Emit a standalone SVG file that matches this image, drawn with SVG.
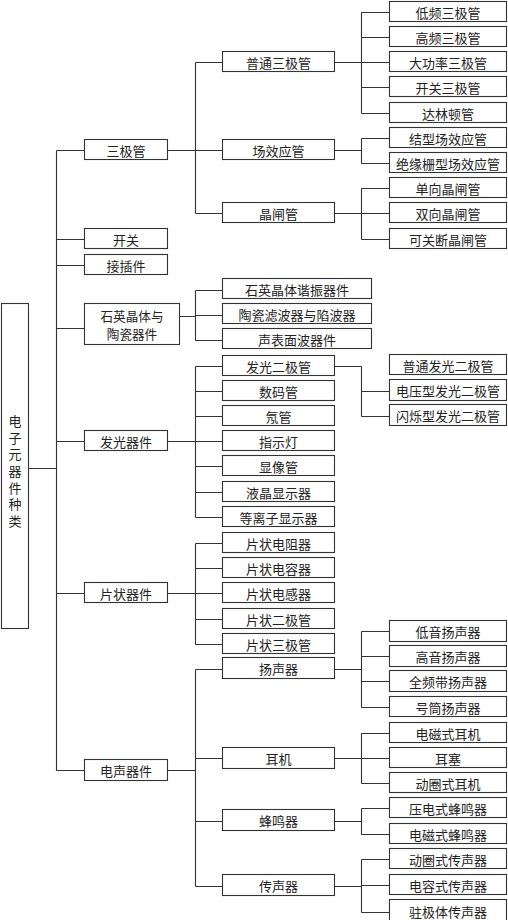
<svg xmlns="http://www.w3.org/2000/svg" width="508" height="920" viewBox="0 0 508 920">
<style>
rect{fill:#fff;stroke:#333;stroke-width:1.1}
text{font-family:"Noto Sans CJK SC","Noto Sans",sans-serif;font-size:13px;fill:#222;text-anchor:middle;dominant-baseline:central}
#connectors path{fill:none;stroke:#333;stroke-width:1.1}
</style>
<rect x="0" y="0" width="508" height="920" style="fill:#fff;stroke:none"/>
<g id="connectors">
<path d="M28.5 468.5H56.5M56.5 150.5V771M56.5 150.5H84.5M56.5 239.5H84.5M56.5 265.5H84.5M56.5 328.5H84.5M56.5 441.5H84.5M56.5 593.5H84.5M56.5 770.5H84.5"/>
<path d="M167 150.5H195.5M195.5 62.5V213.5M195.5 62.5H222.5M195.5 150.5H222.5M195.5 213.5H222.5"/>
<path d="M179 316.5H195.5M195.5 290.5V340.5M195.5 290.5H222.5M195.5 315.5H222.5M195.5 340.5H222.5"/>
<path d="M167 441.5H195.5M195.5 366.5V517.5M195.5 366.5H222.5M195.5 391.5H222.5M195.5 416.5H222.5M195.5 441.5H222.5M195.5 466.5H222.5M195.5 492.5H222.5M195.5 517.5H222.5"/>
<path d="M167 593.5H195.5M195.5 543.5V644.5M195.5 543.5H222.5M195.5 568.5H222.5M195.5 593.5H222.5M195.5 619.5H222.5M195.5 644.5H222.5"/>
<path d="M167 770.5H195.5M195.5 669.5V886.5M195.5 669.5H222.5M195.5 758.5H222.5M195.5 821.5H222.5M195.5 886.5H222.5"/>
<path d="M334 62.5H361.5M361.5 12.5V113.5M361.5 12.5H389.5M361.5 37.5H389.5M361.5 62.5H389.5M361.5 87.5H389.5M361.5 113.5H389.5"/>
<path d="M334 150.5H361.5M361.5 138.5V163.5M361.5 138.5H389.5M361.5 163.5H389.5"/>
<path d="M334 213.5H361.5M361.5 188.5V239.5M361.5 188.5H389.5M361.5 213.5H389.5M361.5 239.5H389.5"/>
<path d="M334 366.5H361.5M361.5 366.5V416.5M361.5 391.5H389.5M361.5 416.5H389.5"/>
<path d="M334 669.5H361.5M361.5 631.5V707.5M361.5 631.5H389.5M361.5 656.5H389.5M361.5 681.5H389.5M361.5 707.5H389.5"/>
<path d="M334 758.5H361.5M361.5 733.5V783.5M361.5 733.5H389.5M361.5 758.5H389.5M361.5 783.5H389.5"/>
<path d="M334 821.5H361.5M361.5 808.5V834.5M361.5 808.5H389.5M361.5 834.5H389.5"/>
<path d="M334 886.5H361.5M361.5 859.5V912.5M361.5 859.5H389.5M361.5 885.5H389.5M361.5 912.5H389.5"/>
</g>
<g id="root"><rect x="1.5" y="303.5" width="27" height="325"/>
<text x="15" y="473" writing-mode="vertical-rl" letter-spacing="3.7">电子元器件种类</text></g>
<g id="n-sanjiguan"><rect x="84.5" y="139.5" width="83" height="20"/><text x="126" y="150">三极管</text></g>
<g id="n-kaiguan"><rect x="84.5" y="228.5" width="83" height="20"/><text x="126" y="239">开关</text></g>
<g id="n-jiechajian"><rect x="84.5" y="254.5" width="83" height="20"/><text x="126" y="265">接插件</text></g>
<g id="n-shiying"><rect x="84.5" y="303.5" width="95" height="41"/><text x="132" y="315" style="font-size:12.6px">石英晶体与</text><text x="132" y="333.4" style="font-size:12.6px">陶瓷器件</text></g>
<g id="n-faguang"><rect x="84.5" y="430.5" width="83" height="20"/><text x="126" y="441">发光器件</text></g>
<g id="n-pianzhuang"><rect x="84.5" y="582.5" width="83" height="20"/><text x="126" y="593">片状器件</text></g>
<g id="n-diansheng"><rect x="84.5" y="759.5" width="83" height="21"/><text x="126" y="770.5">电声器件</text></g>

<g id="n-putong"><rect x="222.5" y="51.5" width="112" height="20"/><text x="278.5" y="62">普通三极管</text></g>
<g id="n-changxiaoying"><rect x="222.5" y="139.5" width="112" height="20"/><text x="278.5" y="150">场效应管</text></g>
<g id="n-jingzha"><rect x="222.5" y="202.5" width="112" height="20"/><text x="278.5" y="213">晶闸管</text></g>

<g id="n-xiezhen"><rect x="222.5" y="278.5" width="149" height="20"/><text x="297" y="289">石英晶体谐振器件</text></g>
<g id="n-taoci"><rect x="222.5" y="303.5" width="149" height="20"/><text x="297" y="314">陶瓷滤波器与陷波器</text></g>
<g id="n-shengbiao"><rect x="222.5" y="328.5" width="149" height="20"/><text x="297" y="339">声表面波器件</text></g>

<g id="n-fgejg"><rect x="222.5" y="355.5" width="112" height="20"/><text x="278.5" y="366">发光二极管</text></g>
<g id="n-shuma"><rect x="222.5" y="380.5" width="112" height="20"/><text x="278.5" y="391">数码管</text></g>
<g id="n-nai"><rect x="222.5" y="405.5" width="112" height="20"/><text x="278.5" y="416">氖管</text></g>
<g id="n-zhishi"><rect x="222.5" y="430.5" width="112" height="20"/><text x="278.5" y="441">指示灯</text></g>
<g id="n-xianxiang"><rect x="222.5" y="455.5" width="112" height="20"/><text x="278.5" y="466">显像管</text></g>
<g id="n-yejing"><rect x="222.5" y="481.5" width="112" height="20"/><text x="278.5" y="492">液晶显示器</text></g>
<g id="n-dengli"><rect x="222.5" y="506.5" width="112" height="20"/><text x="278.5" y="517">等离子显示器</text></g>

<g id="n-pdianzu"><rect x="222.5" y="532.5" width="112" height="20"/><text x="278.5" y="543">片状电阻器</text></g>
<g id="n-pdianrong"><rect x="222.5" y="557.5" width="112" height="20"/><text x="278.5" y="568">片状电容器</text></g>
<g id="n-pdiangan"><rect x="222.5" y="582.5" width="112" height="20"/><text x="278.5" y="593">片状电感器</text></g>
<g id="n-perji"><rect x="222.5" y="608.5" width="112" height="20"/><text x="278.5" y="619">片状二极管</text></g>
<g id="n-psanji"><rect x="222.5" y="633.5" width="112" height="20"/><text x="278.5" y="644">片状三极管</text></g>

<g id="n-yangsheng"><rect x="222.5" y="657.5" width="112" height="21"/><text x="278.5" y="668.5">扬声器</text></g>
<g id="n-erji"><rect x="222.5" y="747.5" width="112" height="21"/><text x="278.5" y="758.5">耳机</text></g>
<g id="n-fengming"><rect x="222.5" y="809.5" width="112" height="21"/><text x="278.5" y="820.5">蜂鸣器</text></g>
<g id="n-chuansheng"><rect x="222.5" y="874.5" width="112" height="21"/><text x="278.5" y="885.5">传声器</text></g>

<g id="n-dipin"><rect x="389.5" y="1.5" width="117" height="20"/><text x="448" y="12">低频三极管</text></g>
<g id="n-gaopin"><rect x="389.5" y="26.5" width="117" height="20"/><text x="448" y="37">高频三极管</text></g>
<g id="n-dagonglv"><rect x="389.5" y="51.5" width="117" height="20"/><text x="448" y="62">大功率三极管</text></g>
<g id="n-kaiguansanji"><rect x="389.5" y="76.5" width="117" height="20"/><text x="448" y="87">开关三极管</text></g>
<g id="n-dalindun"><rect x="389.5" y="102.5" width="117" height="20"/><text x="448" y="113">达林顿管</text></g>
<g id="n-jiexing"><rect x="389.5" y="127.5" width="117" height="20"/><text x="448" y="138">结型场效应管</text></g>
<g id="n-jueyuan"><rect x="389.5" y="152.5" width="117" height="20"/><text x="448" y="163">绝缘栅型场效应管</text></g>
<g id="n-danxiang"><rect x="389.5" y="177.5" width="117" height="20"/><text x="448" y="188">单向晶闸管</text></g>
<g id="n-shuangxiang"><rect x="389.5" y="202.5" width="117" height="20"/><text x="448" y="213">双向晶闸管</text></g>
<g id="n-keguanduan"><rect x="389.5" y="228.5" width="117" height="20"/><text x="448" y="239">可关断晶闸管</text></g>

<g id="n-ptfg"><rect x="389.5" y="354.5" width="117" height="20"/><text x="448" y="365">普通发光二极管</text></g>
<g id="n-dyfg"><rect x="389.5" y="379.5" width="117" height="21"/><text x="448" y="390.5">电压型发光二极管</text></g>
<g id="n-ssfg"><rect x="389.5" y="404.5" width="117" height="21"/><text x="448" y="415.5">闪烁型发光二极管</text></g>

<g id="n-diyin"><rect x="389.5" y="620.5" width="117" height="21"/><text x="448" y="631">低音扬声器</text></g>
<g id="n-gaoyin"><rect x="389.5" y="645.5" width="117" height="21"/><text x="448" y="656">高音扬声器</text></g>
<g id="n-quanpin"><rect x="389.5" y="670.5" width="117" height="21"/><text x="448" y="681">全频带扬声器</text></g>
<g id="n-haotong"><rect x="389.5" y="696.5" width="117" height="20"/><text x="448" y="707">号筒扬声器</text></g>

<g id="n-dcerji"><rect x="389.5" y="722.5" width="117" height="20"/><text x="448" y="733">电磁式耳机</text></g>
<g id="n-ersai"><rect x="389.5" y="747.5" width="117" height="20"/><text x="448" y="758">耳塞</text></g>
<g id="n-dqerji"><rect x="389.5" y="772.5" width="117" height="20"/><text x="448" y="783">动圈式耳机</text></g>

<g id="n-yadian"><rect x="389.5" y="797.5" width="117" height="20"/><text x="448" y="808">压电式蜂鸣器</text></g>
<g id="n-dcfm"><rect x="389.5" y="823.5" width="117" height="20"/><text x="448" y="834">电磁式蜂鸣器</text></g>

<g id="n-dqcs"><rect x="389.5" y="848.5" width="117" height="20"/><text x="448" y="859">动圈式传声器</text></g>
<g id="n-drcs"><rect x="389.5" y="874.5" width="117" height="20"/><text x="448" y="885">电容式传声器</text></g>
<g id="n-zjcs"><rect x="389.5" y="899.5" width="117" height="22"/><text x="448" y="911">驻极体传声器</text></g>
</svg>
